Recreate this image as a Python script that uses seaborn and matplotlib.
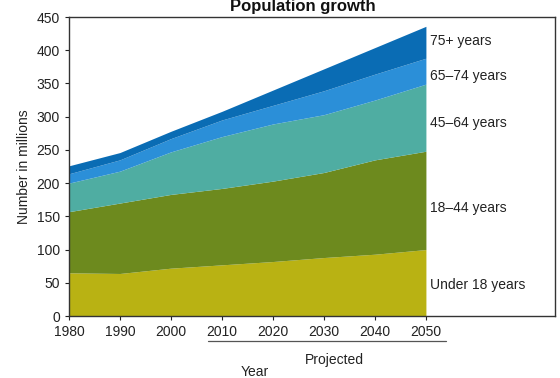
import numpy as np
import pandas as pd
import matplotlib
matplotlib.use('Agg')
import matplotlib.pyplot as plt
import matplotlib.transforms as mtransforms
import seaborn as sns

# ── DATA (millions) ───────────────────────────────────────
years     = [1980, 1990, 2000, 2010, 2020, 2030, 2040, 2050]
under_18  = [65, 64, 72, 77, 82, 88, 93, 100]
age_18_44 = [92, 106, 111, 115, 121, 128, 142, 148]
age_45_64 = [43, 48, 64, 78, 86, 87, 90, 101]
age_65_74 = [14, 17, 20, 25, 28, 36, 39, 39]
age_75up  = [12, 11, 11, 13, 23, 33, 40, 48]
groups    = ['Under 18 years', '18–44 years', '45–64 years', '65–74 years', '75+ years']
colors    = ['#b9b213', '#6d8a1e', '#4fada2', '#2b8fd8', '#0a6cb4']
label_y   = [46, 162, 290, 361, 414]   # where the right-hand labels sit

df = pd.DataFrame({'year': years, groups[0]: under_18, groups[1]: age_18_44,
                   groups[2]: age_45_64, groups[3]: age_65_74, groups[4]: age_75up})

sns.set_style('ticks')
plt.rcParams['font.family'] = ['Liberation Sans', 'DejaVu Sans']

fig = plt.figure(figsize=(5.6, 3.78), dpi=100)
ax = fig.add_axes([0.123, 0.164, 0.868, 0.791])

ax.stackplot(df['year'], *[df[g] for g in groups], colors=colors, linewidth=0)

ax.set_xlim(1980, 2075.3)
ax.set_ylim(0, 450)
ax.set_xticks(years)
ax.set_yticks(range(0, 451, 50))
ax.tick_params(labelsize=10, colors='#222', length=3, width=0.8, direction='out')
for s in ax.spines.values():
    s.set_color('#333'); s.set_linewidth(1.0)

for g, yv in zip(groups, label_y):
    ax.text(2050.8, yv, g, fontsize=10, color='#222', va='center', ha='left')

ax.set_ylabel('Number in millions', fontsize=10, color='#222', labelpad=4)

# "Projected" bracket under the x ticks
trans = mtransforms.blended_transform_factory(ax.transData, ax.transAxes)
ax.plot([2007.3, 2054], [-0.085, -0.085], transform=trans, color='#555',
        lw=0.9, clip_on=False)
ax.text(2032, -0.125, 'Projected', transform=trans, fontsize=10,
        color='#222', ha='center', va='top')
ax.text(2016.5, -0.165, 'Year', transform=trans, fontsize=10,
        color='#222', ha='center', va='top')

fig.text(0.54, 1 - 11 / 378, 'Population growth', fontsize=12,
         fontweight='bold', ha='center', va='baseline', color='#111')

fig.savefig('out.png', dpi=100, facecolor='white')
